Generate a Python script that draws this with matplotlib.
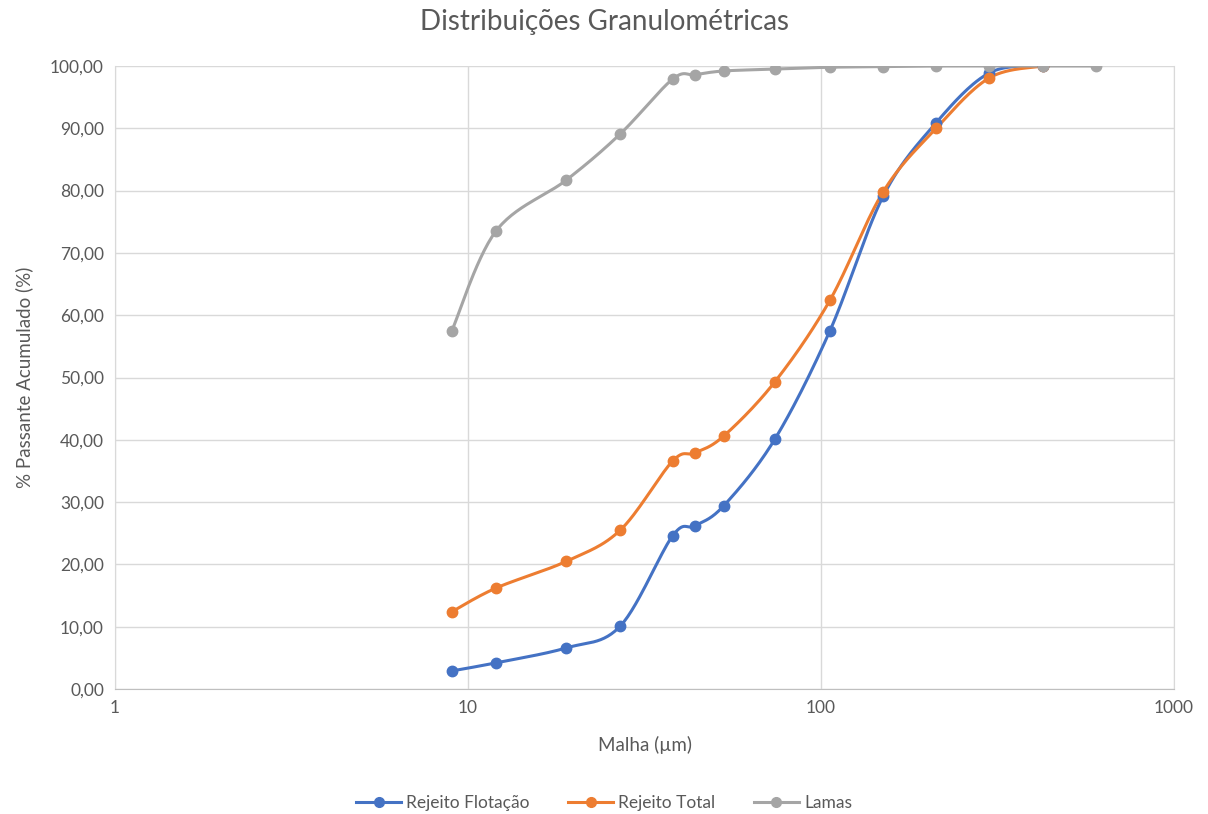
import numpy as np
import matplotlib
matplotlib.use("Agg")
import matplotlib.pyplot as plt
from matplotlib.ticker import FuncFormatter, FixedLocator, NullLocator

plt.rcParams['font.family'] = ['Lato', 'DejaVu Sans']

# Data
malha = [9, 12, 19, 27, 38, 44, 53, 74, 106, 150, 212, 300, 425, 600]
rejeito_flotacao = [2.9, 4.2, 6.6, 10.1, 24.6, 26.2, 29.4, 40.1, 57.5, 79.1, 90.9, 98.9, 100.0]
rejeito_total = [12.4, 16.2, 20.5, 25.5, 36.6, 37.9, 40.6, 49.3, 62.4, 79.8, 90.0, 98.1, 100.0]
lamas = [57.5, 73.5, 81.7, 89.1, 97.9, 98.6, 99.2, 99.5, 99.8, 99.9, 100.0, 100.0, 100.0, 100.0]

series = [("Rejeito Flotação", rejeito_flotacao, "#4472C4"),
          ("Rejeito Total", rejeito_total, "#ED7D31"),
          ("Lamas", lamas, "#A5A5A5")]

text_color = "#595959"

def smooth(xs, ys, n=30):
    # Excel-like smoothing: cubic Bezier with Catmull-Rom control points (in log-x space)
    lx = np.log10(np.asarray(xs, float))
    y = np.asarray(ys, float)
    P = np.column_stack([lx, y])
    out = []
    m = len(P)
    for i in range(m - 1):
        p0 = P[i - 1] if i > 0 else P[i]
        p1 = P[i]
        p2 = P[i + 1]
        p3 = P[i + 2] if i + 2 < m else P[i + 1]
        c1 = p1 + (p2 - p0) / 6.0
        c2 = p2 - (p3 - p1) / 6.0
        t = np.linspace(0, 1, n)[:, None]
        seg = ((1 - t) ** 3) * p1 + 3 * ((1 - t) ** 2) * t * c1 + 3 * (1 - t) * t ** 2 * c2 + t ** 3 * p2
        out.append(seg if i == 0 else seg[1:])
    S = np.vstack(out)
    return 10 ** S[:, 0], S[:, 1]

fig = plt.figure(figsize=(12.08, 8.14), dpi=100)
ax = fig.add_axes([115 / 1208, 1 - 689 / 814, (1174 - 115) / 1208, (689 - 66) / 814])

for name, vals, col in series:
    xs = malha[:len(vals)]
    sx, sy = smooth(xs, vals)
    ax.plot(sx, sy, color=col, lw=2.2, zorder=3, solid_capstyle='round')
    ax.plot(xs, vals, 'o', color=col, ms=7.5, zorder=4)
    ax.plot([], [], '-o', color=col, lw=2.2, ms=7, label=name)

ax.set_xscale('log')
ax.set_xlim(1, 1000)
ax.set_ylim(0, 100)
ax.xaxis.set_major_locator(FixedLocator([1, 10, 100, 1000]))
ax.xaxis.set_minor_locator(NullLocator())
ax.xaxis.set_major_formatter(FuncFormatter(lambda v, p: f"{v:g}"))
ax.set_yticks(np.arange(0, 101, 10))
ax.yaxis.set_major_formatter(FuncFormatter(lambda v, p: f"{v:.2f}".replace('.', ',')))

ax.grid(True, which='major', color='#D9D9D9', lw=1)
ax.set_axisbelow(True)
ax.spines['top'].set_visible(False)
for s in ['left', 'right']:
    ax.spines[s].set_color('#D9D9D9')
ax.spines['bottom'].set_color('#BFBFBF')
ax.tick_params(axis='both', length=0, labelsize=12.5, colors=text_color, pad=8)

ax.set_xlabel("Malha (µm)", fontsize=13.5, color=text_color, labelpad=14)
ax.set_ylabel("% Passante Acumulado (%)", fontsize=13.5, color=text_color, labelpad=12)
fig.text(0.5, 1 - 22 / 814, "Distribuições Granulométricas", ha='center', va='center',
         fontsize=20, color=text_color)

leg = fig.legend(loc='center', bbox_to_anchor=(0.5, 1 - 803 / 814), ncol=3, frameon=False,
                 fontsize=12.5, handlelength=2.6, columnspacing=2.2, handletextpad=0.3)
for t in leg.get_texts():
    t.set_color(text_color)

fig.savefig("out.png", dpi=100)
